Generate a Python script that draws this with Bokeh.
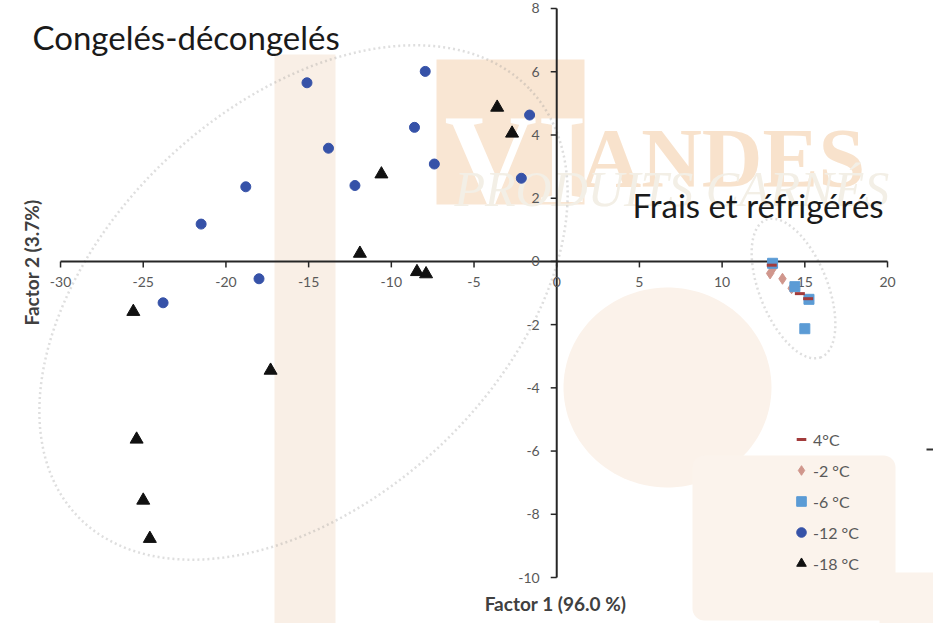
import numpy as np
from bokeh.plotting import figure
from bokeh.models import (Range1d, Label, BoxAnnotation, PolyAnnotation,
                          Legend, LegendItem)
from bokeh.core.properties import value
from bokeh.embed import file_html
from bokeh.resources import INLINE

# ---------------- data ----------------
x_ticks = [-30, -25, -20, -15, -10, -5, 0, 5, 10, 15, 20]
x_tick_labels = ["-30", "-25", "-20", "-15", "-10", "-5", "0", "5", "10", "15", "20"]
y_ticks = [-10, -8, -6, -4, -2, 0, 2, 4, 6, 8]
y_tick_labels = ["-10", "-8", "-6", "-4", "-2", "0", "2", "4", "6", "8"]

series_labels = ["4°C", "-2 °C", "-6 °C", "-12 °C", "-18 °C"]

t4_x = [13.0, 14.7, 15.2]
t4_y = [-0.12, -1.02, -1.18]

t2_x = [12.9, 13.65, 14.2, 13.1]
t2_y = [-0.38, -0.55, -0.85, -0.2]

t6_x = [13.05, 14.4, 15.25, 15.0]
t6_y = [-0.06, -0.8, -1.2, -2.13]

t12_x = [-21.5, -18.8, -15.1, -13.8, -12.2, -8.6, -7.95, -7.4, -1.64, -2.14, -18.0, -23.8]
t12_y = [1.18, 2.36, 5.65, 3.58, 2.40, 4.24, 6.01, 3.08, 4.63, 2.63, -0.55, -1.31]

t18_x = [-3.6, -2.7, -10.6, -11.9, -8.45, -7.9, -25.6, -17.3, -25.4, -25.0, -24.6]
t18_y = [4.87, 4.05, 2.76, 0.25, -0.33, -0.40, -1.59, -3.45, -5.63, -7.56, -8.77]

x_title = "Factor 1 (96.0 %)"
y_title = "Factor 2 (3.7%)"
group_left = "Congelés-décongelés"
group_right = "Frais et réfrigérés"

# ---------------- layout helpers ----------------
W, H = 933, 623
MARGIN = 8


def sx(px):  # page pixel x -> frame screen x
    return px - MARGIN


def sy(py):  # page pixel y -> frame screen y (from bottom)
    return H + MARGIN - py


FONT = "Lato"

p = figure(width=W, height=H,
           x_range=Range1d(-33.63, 22.78), y_range=Range1d(-11.455, 8.253),
           output_backend="svg", toolbar_location=None,
           x_axis_location=None, y_axis_location=None,
           min_border=0, outline_line_color=None, background_fill_color="white")
p.xgrid.visible = False
p.ygrid.visible = False

# ---------------- watermark (background) ----------------
peach = "#f9efe6"
p.add_layout(BoxAnnotation(left=sx(282), right=sx(343), top=sy(62), bottom=0,
                           left_units="screen", right_units="screen",
                           top_units="screen", bottom_units="screen",
                           fill_color=peach, fill_alpha=1, line_color=None, level="underlay"))
th = np.linspace(0, 2 * np.pi, 120)
p.add_layout(PolyAnnotation(xs=list(sx(675 + 104 * np.cos(th))), ys=list(sy(395 + 100 * np.sin(th))),
                            xs_units="screen", ys_units="screen",
                            fill_color="#fbf2ea", fill_alpha=1, line_color=None, level="underlay"))
p.add_layout(BoxAnnotation(left=sx(700), right=sx(903), top=sy(463), bottom=sy(628),
                           left_units="screen", right_units="screen",
                           top_units="screen", bottom_units="screen", border_radius=12,
                           fill_color="#fbf3ec", fill_alpha=1, line_color=None, level="underlay"))
p.add_layout(BoxAnnotation(left=sx(887), right=W, top=sy(580), bottom=0,
                           left_units="screen", right_units="screen",
                           top_units="screen", bottom_units="screen",
                           fill_color="#fbf3ec", fill_alpha=1, line_color=None, level="underlay"))
# logo block
p.add_layout(BoxAnnotation(left=sx(444), right=sx(592), top=sy(67), bottom=sy(212),
                           left_units="screen", right_units="screen",
                           top_units="screen", bottom_units="screen",
                           fill_color="#f9e6d3", fill_alpha=1, line_color=None, level="underlay"))
p.add_layout(Label(x=sx(452), y=sy(166), x_units="screen", y_units="screen", text="VI",
                   text_font="Liberation Serif", text_font_style="bold", text_font_size="128px",
                   text_color="white", text_baseline="alphabetic", level="underlay"))
p.add_layout(Label(x=sx(588), y=sy(166), x_units="screen", y_units="screen", text="ANDES",
                   text_font="Liberation Serif", text_font_style="bold", text_font_size="84px",
                   text_color="#f8e2cc", text_baseline="alphabetic", level="underlay"))
p.add_layout(Label(x=sx(462), y=sy(196), x_units="screen", y_units="screen", text="PRODUITS CARNÉS",
                   text_font="Liberation Serif", text_font_style="italic", text_font_size="50px",
                   text_color="#f3efe6", text_baseline="alphabetic", level="underlay"))

# ---------------- cluster ellipses ----------------
def ellipse(cx, cy, a, b, ang_deg):
    t = np.linspace(0, 2 * np.pi, 240)
    ang = np.deg2rad(ang_deg)
    ux, uy = np.cos(ang), -np.sin(ang)
    vx, vy = np.sin(ang), np.cos(ang)
    X = cx + a * np.cos(t) * ux + b * np.sin(t) * vx
    Y = cy + a * np.cos(t) * uy + b * np.sin(t) * vy
    return list(sx(X)), list(sy(Y))


for (cx, cy, a, b, ang) in [(311, 310, 311, 198, 43.2), (801, 296, 74, 34, -68.2)]:
    exs, eys = ellipse(cx, cy, a, b, ang)
    p.add_layout(PolyAnnotation(xs=exs, ys=eys, xs_units="screen", ys_units="screen",
                                fill_alpha=0, line_color="#939393", line_width=2.5,
                                line_dash="2 3", level="underlay"))

# ---------------- axes through origin ----------------
axis_color = "#262626"
p.segment(x0=[x_ticks[0]], y0=[0], x1=[x_ticks[-1]], y1=[0], line_color=axis_color, line_width=2)
p.segment(x0=[0], y0=[y_ticks[0]], x1=[0], y1=[y_ticks[-1]], line_color=axis_color, line_width=2)
p.ray(x=x_ticks, y=[0] * len(x_ticks), length=6, length_units="screen", angle=-np.pi / 2,
      line_color=axis_color, line_width=1.5)
p.ray(x=[0] * len(y_ticks), y=y_ticks, length=6, length_units="screen", angle=np.pi,
      line_color=axis_color, line_width=1.5)
p.text(x=x_ticks, y=[0] * len(x_ticks), text=x_tick_labels, y_offset=21,
       text_align="center", text_baseline="middle", text_font=value(FONT),
       text_font_size="14px", text_color="#595959")
p.text(x=[0] * len(y_ticks), y=y_ticks, text=y_tick_labels, x_offset=-17,
       text_align="right", text_baseline="middle", text_font=value(FONT),
       text_font_size="14px", text_color="#595959")

# ---------------- series ----------------
r12 = p.scatter(t12_x, t12_y, marker="circle", size=10, fill_color="#3652a8", line_color="#3652a8")
r18 = p.scatter(t18_x, t18_y, marker="triangle", size=13, fill_color="#111111", line_color="#111111")
r2 = p.scatter(t2_x, t2_y, marker="diamond", size=11, fill_color="#d0968c", line_color="#d0968c")
r6 = p.scatter(t6_x, t6_y, marker="square", size=10, fill_color="#5b9bd5", line_color="#5b9bd5")
r4 = p.scatter(t4_x, t4_y, marker="dash", size=10, line_color="#a23b3b", line_width=3)

legend = Legend(items=[LegendItem(label=series_labels[0], renderers=[r4]),
                       LegendItem(label=series_labels[1], renderers=[r2]),
                       LegendItem(label=series_labels[2], renderers=[r6]),
                       LegendItem(label=series_labels[3], renderers=[r12]),
                       LegendItem(label=series_labels[4], renderers=[r18])],
                location=(sx(797), sy(583)), orientation="vertical",
                glyph_width=24, glyph_height=24, label_height=24, spacing=7,
                label_standoff=0, padding=0, margin=0,
                border_line_color=None, background_fill_alpha=0,
                label_text_font=FONT, label_text_font_size="16px", label_text_color="#595959")
p.add_layout(legend)

# ---------------- titles ----------------
p.add_layout(Label(x=sx(563), y=sy(611), x_units="screen", y_units="screen", text=x_title,
                   text_align="center", text_baseline="middle", text_font=FONT,
                   text_font_style="bold", text_font_size="19px", text_color="#404040"))
p.add_layout(Label(x=sx(39), y=sy(270), x_units="screen", y_units="screen", text=y_title,
                   angle=np.pi / 2, text_align="center", text_baseline="middle", text_font=FONT,
                   text_font_style="bold", text_font_size="19px", text_color="#404040"))
p.add_layout(Label(x=sx(40), y=sy(44), x_units="screen", y_units="screen", text=group_left,
                   text_baseline="alphabetic", text_font=FONT, text_font_size="33px",
                   text_color="#1a1a1a"))
p.add_layout(Label(x=sx(640), y=sy(212), x_units="screen", y_units="screen", text=group_right,
                   text_baseline="alphabetic", text_font=FONT, text_font_size="33px",
                   text_color="#1a1a1a"))

# stray slide mark at right edge
p.add_layout(BoxAnnotation(left=sx(934), right=W, top=sy(456), bottom=sy(458),
                           left_units="screen", right_units="screen",
                           top_units="screen", bottom_units="screen",
                           fill_color="#333333", fill_alpha=1, line_color=None))

open("out.html", "w").write(file_html(p, INLINE))
